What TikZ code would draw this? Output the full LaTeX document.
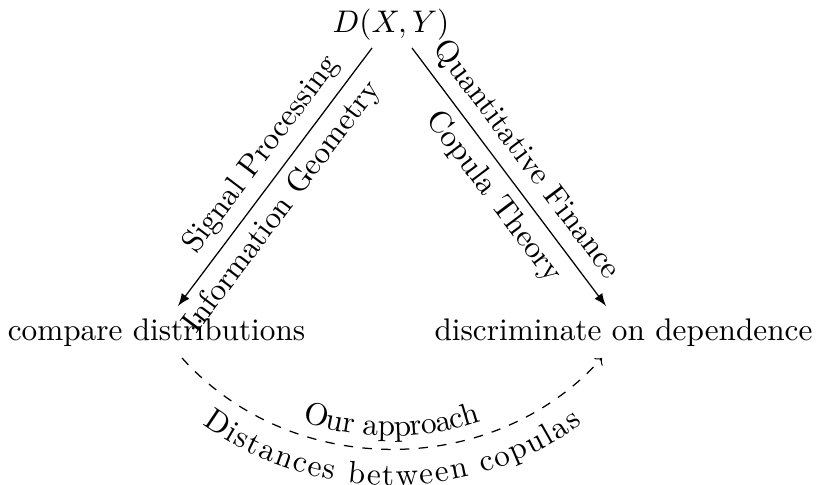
\documentclass[tikz,border=0pt]{standalone}
\usetikzlibrary{decorations.text,arrows}
\begin{document}
\begin{tikzpicture}[x=0.32pt,y=0.32pt,
  term/.style={inner sep=0pt, outer sep=0pt, anchor=base},
  flow/.style={-latex, line width=0.4pt},
  field/.style={sloped, inner sep=3pt},
  arcpath/.style={dashed, ->, line width=0.4pt},
  arctext/.style={decorate, decoration={text along path, text={#1}, text align=center}},
  ]
\useasboundingbox (0,0) rectangle (816,485);

% the three terms of the triangle
\node[term] (top) at (391,452) {$D(X,Y)$};
\node[term] (cmp) at (156.5,144) {compare distributions};
\node[term] (dis) at (623.5,144) {discriminate on dependence};

% arrow end points
\coordinate (l1) at (372,437);
\coordinate (l2) at (178,179);
\coordinate (r1) at (412,437);
\coordinate (r2) at (606,179);

\draw[flow] (l1) -- node[field, pos=0.47, above] {Signal Processing}
                   node[field, pos=0.56, below] {Information Geometry} (l2);
\draw[flow] (r1) -- node[field, pos=0.49, above] {Quantitative Finance}
                   node[field, pos=0.52, below] {Copula Theory} (r2);

% the dashed arc linking the two bottom terms
\coordinate (c1) at (182,127);
\coordinate (c2) at (602,127);
\draw[arcpath] (c1) to[bend right=48] (c2);
\path[arctext={Our approach}, decoration={raise=4.2pt}] (c1) to[bend right=48] (c2);
\path[arctext={Distances between copulas}, decoration={raise=-11.5pt}] (c1) to[bend right=48] (c2);
\end{tikzpicture}
\end{document}
